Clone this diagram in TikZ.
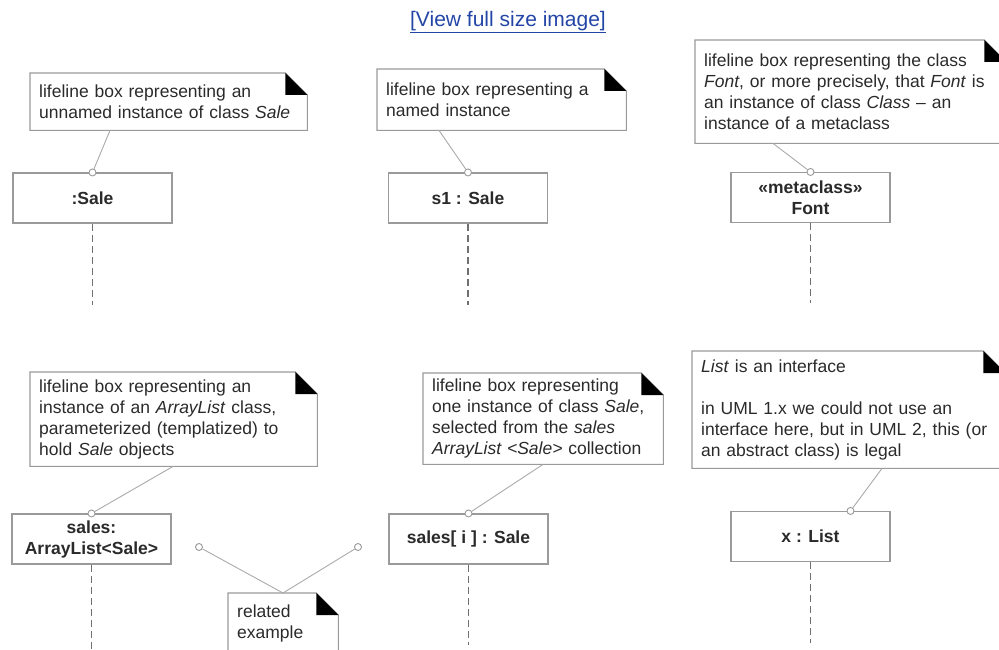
\documentclass[tikz,border=0pt]{standalone}
\usepackage{fontspec}
\setmainfont{Liberation Sans}
\definecolor{SDLine}{HTML}{9A9A9A}
\definecolor{SDLink}{HTML}{AAAAAA}
\definecolor{SDDash}{HTML}{707070}
\definecolor{SDText}{HTML}{2A2A2A}
\definecolor{SDBlue}{HTML}{2346A6}
\tikzset{
  notebox/.style={anchor=north west,inner xsep=9pt,inner ysep=0pt,align=left,text=SDText,font=\fontsize{17.5}{21}\selectfont},
  lifebox/.style={draw=SDLine,line width=1.1pt,fill=white,minimum width=159pt,minimum height=50pt,inner sep=0pt,align=center,text=SDText,font=\fontsize{17.5}{21}\selectfont\bfseries},
  anchorring/.style={circle,draw=SDLine,line width=0.9pt,fill=white,minimum size=7pt,inner sep=0pt},
  noteline/.style={draw=SDLink,line width=0.9pt},
  lifeline/.style={draw=SDDash,line width=1.1pt,dash pattern=on 7pt off 4pt},
}
\newcommand\notefold[1]{%
  \draw[SDLine,line width=1.1pt] (#1.north west) -- ([xshift=-22pt]#1.north east) -- ([yshift=-22pt]#1.north east) -- (#1.south east) -- (#1.south west) -- cycle;
  \fill[black] ([xshift=-22pt]#1.north east) -- ([xshift=-22pt,yshift=-22pt]#1.north east) -- ([yshift=-22pt]#1.north east) -- cycle;}
\begin{document}
\begin{tikzpicture}[x=1pt,y=-1pt]
\path[use as bounding box] (0,0) rectangle (999,650);
\clip (0,0) rectangle (999,650);
\node[text=SDBlue,font=\fontsize{21}{25}\selectfont] (link) at (508,22) {\underline{[View full size image]}};
\node[notebox,text width=259pt,minimum height=57pt] (n1) at (30,73) {lifeline box representing an\\unnamed instance of class \textit{Sale}};
\node[notebox,text width=231pt,minimum height=61pt] (n2) at (377,69) {lifeline box representing a\\named instance};
\node[notebox,text width=293pt,minimum height=103pt] (n3) at (695,40) {lifeline box representing the class\\\textit{Font}, or more precisely, that \textit{Font} is\\an instance of class \textit{Class} -- an\\instance of a metaclass};
\node[notebox,text width=269pt,minimum height=94pt] (n4) at (30,372) {lifeline box representing an\\instance of an \textit{ArrayList} class,\\parameterized (templatized) to\\hold \textit{Sale} objects};
\node[notebox,text width=92pt,minimum height=61pt] (n5) at (228,593) {related\\example};
\node[notebox,text width=222pt,minimum height=91pt] (n6) at (423,373) {lifeline box representing\\one instance of class \textit{Sale},\\selected from the \textit{sales}\\\textit{ArrayList <Sale>} collection};
\node[notebox,text width=295pt,minimum height=117pt] (n7) at (692,351) {\textit{List} is an interface\\[21pt]in UML 1.x we could not use an\\interface here, but in UML 2, this (or\\an abstract class) is legal};
\notefold{n1}
\notefold{n2}
\notefold{n3}
\notefold{n4}
\notefold{n5}
\notefold{n6}
\notefold{n7}
\node[lifebox] (b1) at (92.5,198) {:Sale};
\node[lifebox] (b2) at (468,198) {s1 : Sale};
\node[lifebox] (b3) at (810.5,197.5) {«metaclass»\\Font};
\node[lifebox] (b4) at (91.5,539) {sales:\\ArrayList<Sale>};
\node[lifebox] (b6) at (468.5,539) {sales[ i ] : Sale};
\node[lifebox] (b7) at (810.5,536.5) {x : List};
\coordinate (e1) at (92.5,305);
\coordinate (e2) at (468,305);
\coordinate (e3) at (810.5,303);
\coordinate (e4) at (91.5,652);
\coordinate (e6) at (468.5,645);
\coordinate (e7) at (810.5,643);
\draw[lifeline] (b1.south) -- (e1);
\draw[lifeline] (b2.south) -- (e2);
\draw[lifeline] (b3.south) -- (e3);
\draw[lifeline] (b4.south) -- (e4);
\draw[lifeline] (b6.south) -- (e6);
\draw[lifeline] (b7.south) -- (e7);
\node[anchorring] (r1) at (b1.north) {};
\node[anchorring] (r2) at (b2.north) {};
\node[anchorring] (r3) at (b3.north) {};
\node[anchorring] (r4) at (b4.north) {};
\node[anchorring] (r6) at (b6.north) {};
\node[anchorring] (r7) at ([xshift=40pt]b7.north) {};
\node[anchorring] (r8) at (199,547) {};
\node[anchorring] (r9) at (358,547) {};
\draw[noteline] ([xshift=80pt]n1.south west) -- (r1);
\draw[noteline] ([xshift=62pt]n2.south west) -- (r2);
\draw[noteline] ([xshift=78pt]n3.south west) -- (r3);
\draw[noteline] ([xshift=143pt]n4.south west) -- (r4);
\draw[noteline] ([xshift=120pt]n6.south west) -- (r6);
\draw[noteline] ([xshift=190pt]n7.south west) -- (r7);
\draw[noteline] ([xshift=55pt]n5.north west) -- (r8);
\draw[noteline] ([xshift=55pt]n5.north west) -- (r9);
\end{tikzpicture}
\end{document}
